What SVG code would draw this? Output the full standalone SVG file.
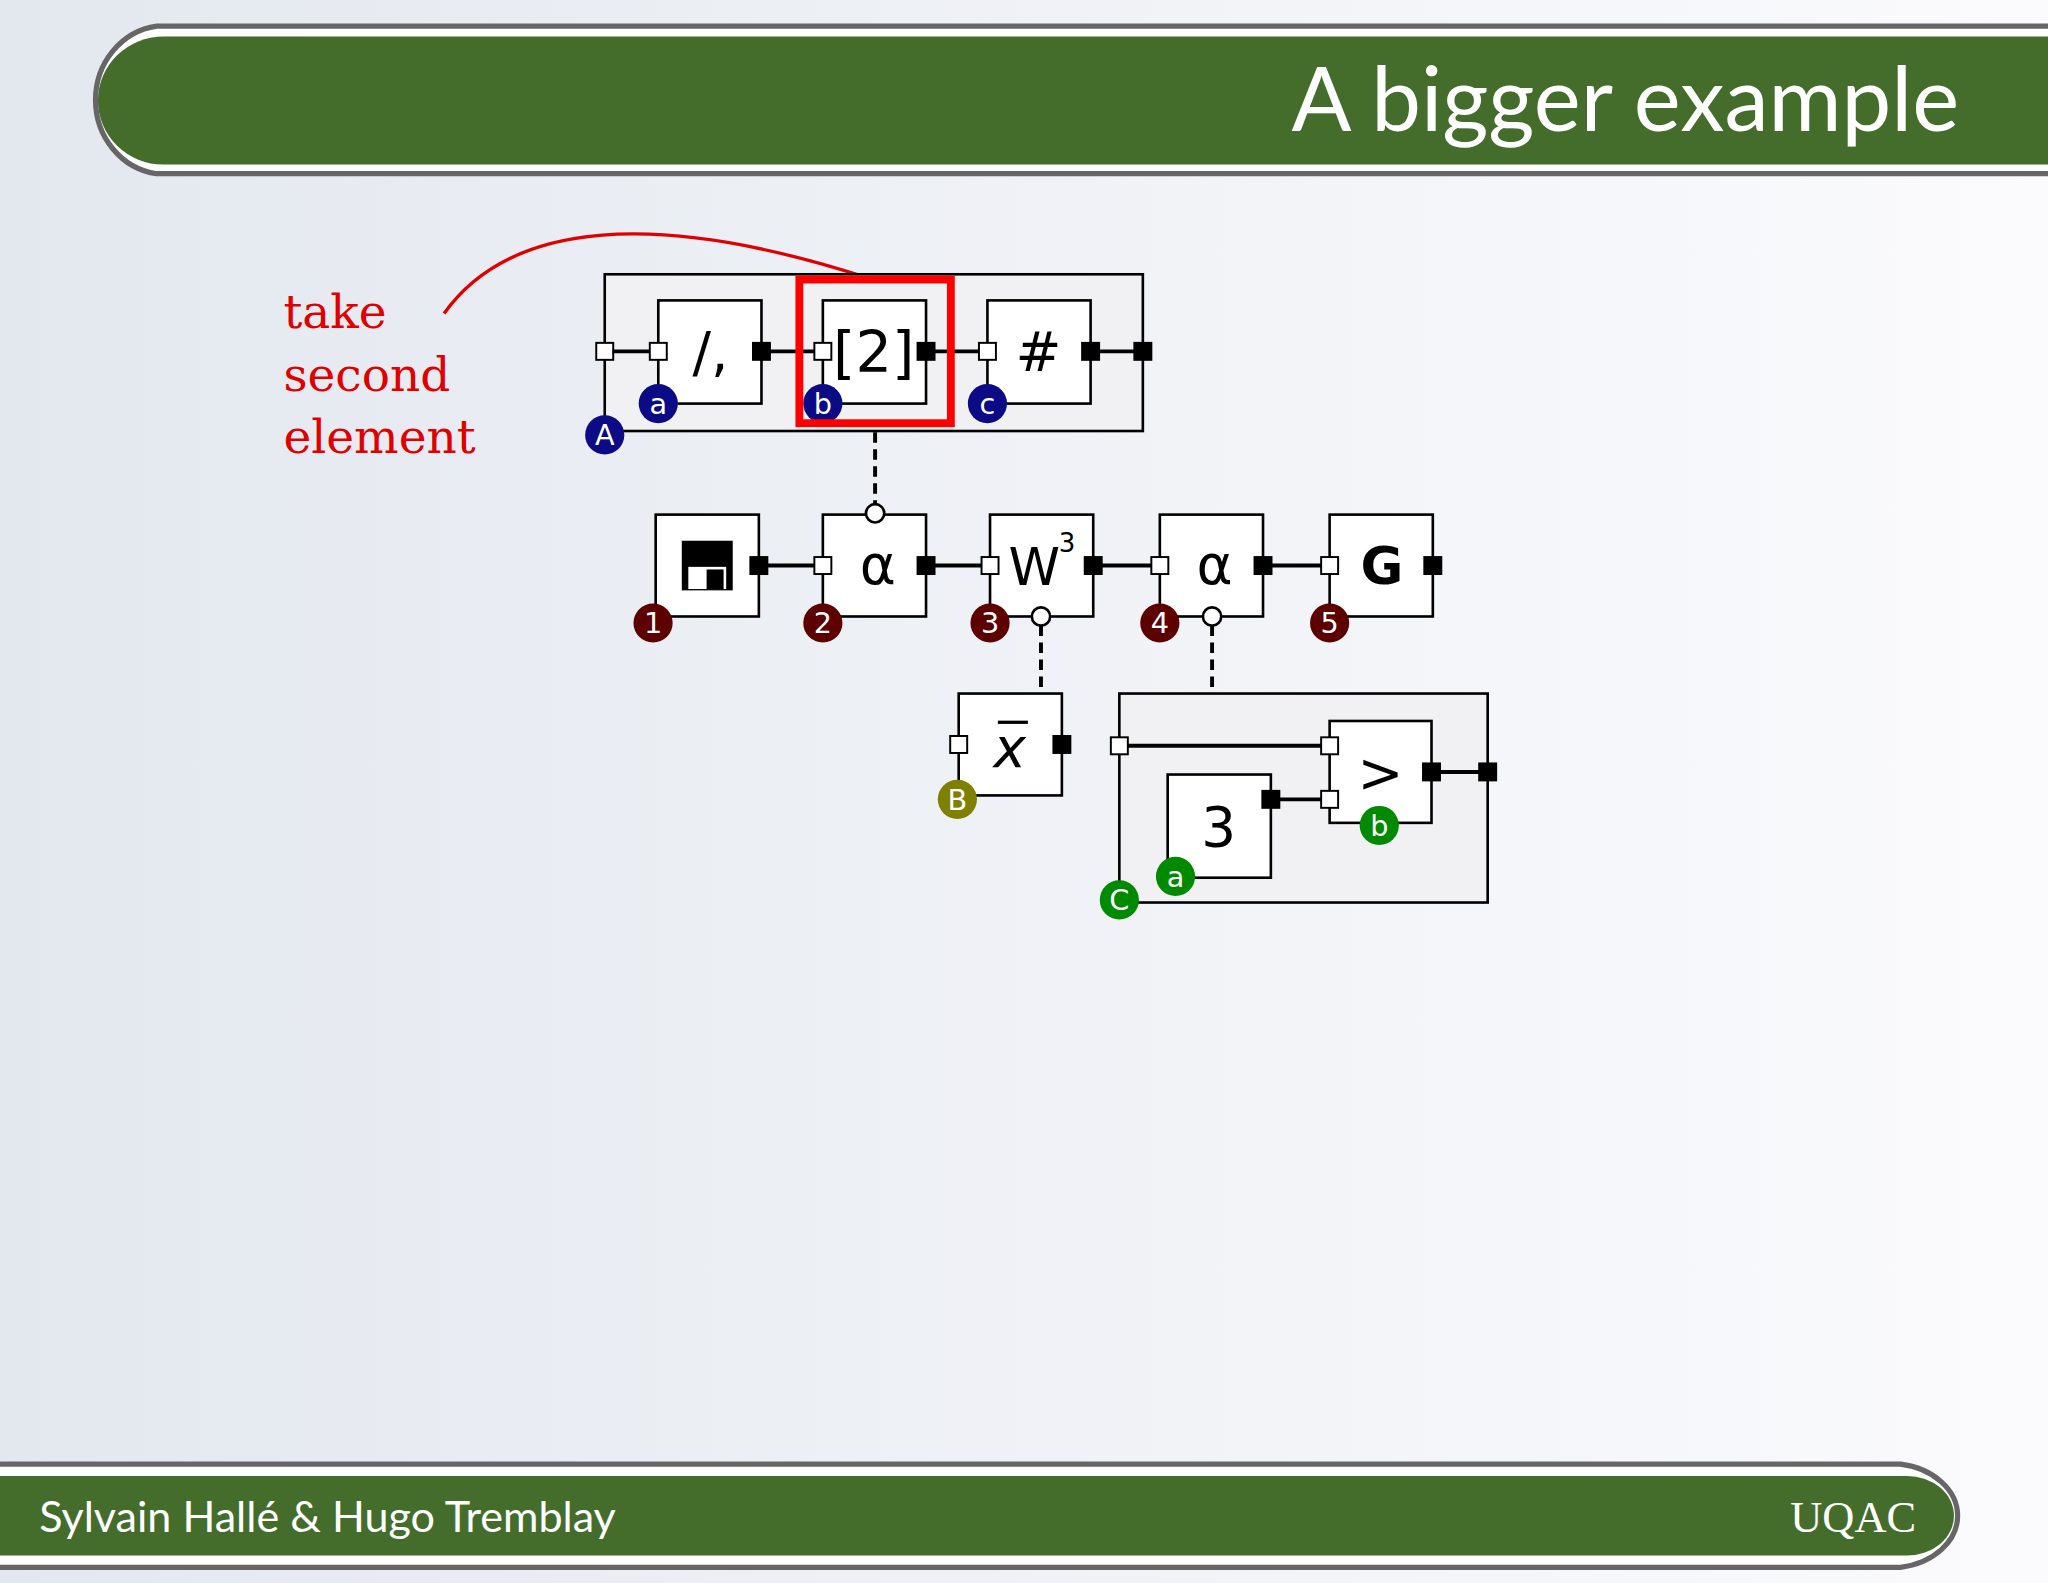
<svg xmlns="http://www.w3.org/2000/svg" width="2048" height="1583" viewBox="0 0 2048 1583">
<defs>
<linearGradient id="bg" x1="0" y1="0" x2="1" y2="0">
<stop offset="0" stop-color="#e3e8ef"/><stop offset="1" stop-color="#fbfbfd"/>
</linearGradient>
<style>
.box{fill:#fff;stroke:#000;stroke-width:2}
.grp{fill:#f1f1f3;stroke:#000;stroke-width:2}
.pin{fill:#fff;stroke:#000;stroke-width:1.5}
.pout{fill:#000;stroke:#000;stroke-width:1.5}
.w{stroke:#000;stroke-width:3;fill:none}
.d{stroke:#000;stroke-width:3;fill:none;stroke-dasharray:8 5}
.lbl{font-family:"DejaVu Sans",sans-serif;fill:#000;text-anchor:middle}
.bt{font-family:"DejaVu Sans",sans-serif;fill:#fff;text-anchor:middle;font-size:22px}
.nv{fill:#0b0b86}.dr{fill:#5c0000}.ol{fill:#7f7f00}.gr{fill:#008a00}
</style>
</defs>
<rect width="2048" height="1583" fill="url(#bg)"/>
<g transform="scale(1.30612)">
<g id="titlebar">
<path d="M1568 20 H120 A54 57 0 0 0 120 133 H1568" fill="#fff" stroke="#666" stroke-width="4"/>
<path d="M1568 28 H125 A50 49 0 0 0 125 126 H1568 Z" fill="#446d2c"/>
<text x="1500" y="100" font-family="Lato,'Open Sans',sans-serif" font-size="68" fill="#fff" text-anchor="end">A bigger example</text>
</g>
<g id="footer">
<path d="M0 1121 H1455 A52 40 0 0 1 1455 1200 H0" fill="#fff" stroke="#666" stroke-width="4"/>
<path d="M0 1130 H1460 A36 30.5 0 0 1 1460 1191 H0 Z" fill="#446d2c"/>
<text x="30" y="1173" font-family="Lato,'Open Sans',sans-serif" font-size="33" fill="#fff">Sylvain Hallé &amp; Hugo Tremblay</text>
<text x="1467" y="1173" font-family="'Liberation Serif',serif" font-size="34" fill="#fff" text-anchor="end">UQAC</text>
</g>
<g id="annotation">
<text font-family="'DejaVu Serif',serif" font-size="36" fill="#e00000"><tspan x="217" y="251">take</tspan><tspan x="217" y="299">second</tspan><tspan x="217" y="347">element</tspan></text>
<path d="M340 240 C390 170 500 160 662 212" fill="none" stroke="#e00000" stroke-width="2.5"/>
</g>
<g id="groupA">
<rect class="grp" x="463" y="210" width="412" height="120"/>
<rect class="pin" x="456.5" y="262.5" width="13" height="13"/>
<rect class="pout" x="868.5" y="262.5" width="13" height="13"/>
<circle class="nv" cx="463" cy="333" r="15"/><text class="bt" x="463" y="341">A</text>
</g>
<g id="groupC">
<rect class="grp" x="857" y="531" width="282" height="160"/>
<rect class="pin" x="850.5" y="564.5" width="13" height="13"/>
<rect class="pout" x="1132.5" y="584.5" width="13" height="13"/>
<circle class="gr" cx="857" cy="689" r="15"/><text class="bt" x="857" y="697">C</text>
</g>
<g id="connectors">
<line class="w" x1="469" y1="269" x2="498" y2="269"/>
<line class="w" x1="583" y1="269" x2="630" y2="269"/>
<line class="w" x1="709" y1="269" x2="756" y2="269"/>
<line class="w" x1="835" y1="269" x2="869" y2="269"/>
<line class="w" x1="581" y1="433" x2="630" y2="433"/>
<line class="w" x1="709" y1="433" x2="758" y2="433"/>
<line class="w" x1="837" y1="433" x2="888" y2="433"/>
<line class="w" x1="967" y1="433" x2="1018" y2="433"/>
<line class="d" x1="670" y1="331" x2="670" y2="386"/>
<line class="d" x1="797" y1="479" x2="797" y2="531"/>
<line class="d" x1="928" y1="479" x2="928" y2="531"/>
<line class="w" x1="863" y1="571" x2="1012" y2="571"/>
<line class="w" x1="973" y1="612" x2="1012" y2="612"/>
<line class="w" x1="1096" y1="591" x2="1133" y2="591"/>
</g>
<g id="split">
<rect class="box" x="504" y="230" width="79" height="79"/>
<text class="lbl" x="544" y="284" font-size="42">/,</text>
<rect class="pin" x="497.5" y="262.5" width="13" height="13"/>
<rect class="pout" x="576.5" y="262.5" width="13" height="13"/>
<circle class="nv" cx="504" cy="309" r="15"/><text class="bt" x="504" y="317">a</text>
</g>
<g id="nth">
<rect class="box" x="630" y="230" width="79" height="79"/>
<text class="lbl" x="669" y="285" font-size="44">[2]</text>
<rect class="pin" x="623.5" y="262.5" width="13" height="13"/>
<rect class="pout" x="702.5" y="262.5" width="13" height="13"/>
<circle class="nv" cx="630" cy="309" r="15"/><text class="bt" x="630" y="317">b</text>
<rect x="612" y="214" width="116" height="110" fill="none" stroke="#f00" stroke-width="6"/>
</g>
<g id="count">
<rect class="box" x="756" y="230" width="79" height="79"/>
<text class="lbl" x="795" y="284" font-size="42">#</text>
<rect class="pin" x="749.5" y="262.5" width="13" height="13"/>
<rect class="pout" x="828.5" y="262.5" width="13" height="13"/>
<circle class="nv" cx="756" cy="309" r="15"/><text class="bt" x="756" y="317">c</text>
</g>
<g id="n1">
<rect class="box" x="502" y="394" width="79" height="78"/>
<rect x="522" y="414" width="39" height="38" fill="#000"/>
<rect x="527" y="434" width="29" height="17" fill="#fff"/>
<rect x="541" y="436" width="13" height="15" fill="#000"/>
<rect class="pout" x="574.5" y="426.5" width="13" height="13"/>
<circle class="dr" cx="500" cy="477" r="15"/><text class="bt" x="500" y="485">1</text>
</g>
<g id="n2">
<rect class="box" x="630" y="394" width="79" height="78"/>
<text class="lbl" x="672" y="447" font-size="42">α</text>
<rect class="pin" x="623.5" y="426.5" width="13" height="13"/>
<rect class="pout" x="702.5" y="426.5" width="13" height="13"/>
<circle cx="670" cy="393" r="7" fill="#fff" stroke="#000" stroke-width="2"/>
<circle class="dr" cx="630" cy="477" r="15"/><text class="bt" x="630" y="485">2</text>
</g>
<g id="n3">
<rect class="box" x="758" y="394" width="79" height="78"/>
<text class="lbl" x="792" y="448" font-size="40">W</text>
<text class="lbl" x="817" y="423" font-size="20">3</text>
<rect class="pin" x="751.5" y="426.5" width="13" height="13"/>
<rect class="pout" x="830.5" y="426.5" width="13" height="13"/>
<circle cx="797" cy="472" r="7" fill="#fff" stroke="#000" stroke-width="2"/>
<circle class="dr" cx="758" cy="477" r="15"/><text class="bt" x="758" y="485">3</text>
</g>
<g id="n4">
<rect class="box" x="888" y="394" width="79" height="78"/>
<text class="lbl" x="930" y="447" font-size="42">α</text>
<rect class="pin" x="881.5" y="426.5" width="13" height="13"/>
<rect class="pout" x="960.5" y="426.5" width="13" height="13"/>
<circle cx="928" cy="472" r="7" fill="#fff" stroke="#000" stroke-width="2"/>
<circle class="dr" cx="888" cy="477" r="15"/><text class="bt" x="888" y="485">4</text>
</g>
<g id="n5">
<rect class="box" x="1018" y="394" width="79" height="78"/>
<text class="lbl" x="1058" y="447" font-size="40" font-weight="bold">G</text>
<rect class="pin" x="1011.5" y="426.5" width="13" height="13"/>
<rect class="pout" x="1090.5" y="426.5" width="13" height="13"/>
<circle class="dr" cx="1018" cy="477" r="15"/><text class="bt" x="1018" y="485">5</text>
</g>
<g id="mean">
<rect class="box" x="734" y="531" width="79" height="78"/>
<text class="lbl" x="773" y="587" font-size="42" font-style="italic">x</text>
<line x1="764" y1="553" x2="787" y2="553" stroke="#000" stroke-width="2.5"/>
<rect class="pin" x="727.5" y="563.5" width="13" height="13"/>
<rect class="pout" x="806.5" y="563.5" width="13" height="13"/>
<circle class="ol" cx="733" cy="612" r="15"/><text class="bt" x="733" y="620">B</text>
</g>
<g id="const3">
<rect class="box" x="894" y="593" width="79" height="79"/>
<text class="lbl" x="933" y="648" font-size="42">3</text>
<rect class="pout" x="966.5" y="605.5" width="13" height="13"/>
<circle class="gr" cx="900" cy="671" r="15"/><text class="bt" x="900" y="679">a</text>
</g>
<g id="gt">
<rect class="box" x="1018" y="552" width="78" height="78"/>
<text class="lbl" x="1057" y="606" font-size="42">&gt;</text>
<rect class="pin" x="1011.5" y="564.5" width="13" height="13"/>
<rect class="pin" x="1011.5" y="605.5" width="13" height="13"/>
<rect class="pout" x="1089.5" y="584.5" width="13" height="13"/>
<circle class="gr" cx="1056" cy="632" r="15"/><text class="bt" x="1056" y="640">b</text>
</g>
</g>
</svg>
